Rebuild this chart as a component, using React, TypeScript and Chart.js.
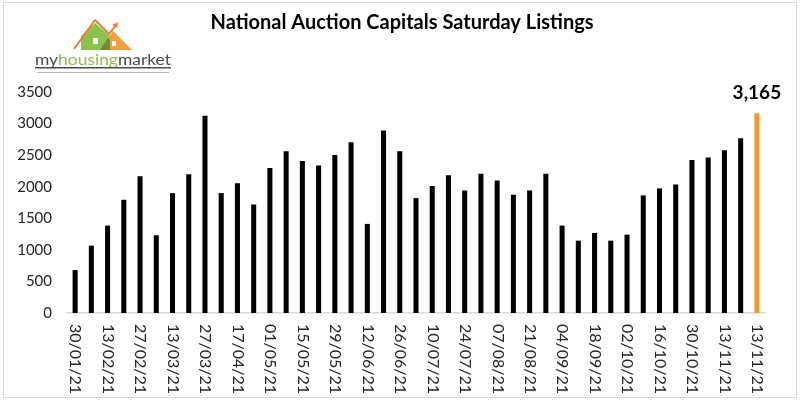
import React, { useEffect, useRef } from "react";
import { Chart, registerables } from "chart.js";

Chart.register(...registerables);

const TITLE = "National Auction Capitals Saturday Listings";

const WEEK_LABELS: string[] = [
  "30/01/21", "06/02/21", "13/02/21", "20/02/21", "27/02/21", "06/03/21",
  "13/03/21", "20/03/21", "27/03/21", "10/04/21", "17/04/21", "24/04/21",
  "01/05/21", "08/05/21", "15/05/21", "22/05/21", "29/05/21", "05/06/21",
  "12/06/21", "19/06/21", "26/06/21", "03/07/21", "10/07/21", "17/07/21",
  "24/07/21", "31/07/21", "07/08/21", "14/08/21", "21/08/21", "28/08/21",
  "04/09/21", "11/09/21", "18/09/21", "25/09/21", "02/10/21", "09/10/21",
  "16/10/21", "23/10/21", "30/10/21", "06/11/21", "13/11/21", "06/11/21",
  "13/11/21",
];

const LISTINGS: number[] = [
  680, 1066, 1384, 1793, 2164, 1231, 1899, 2196, 3125, 1899, 2053, 1718,
  2297, 2562, 2409, 2334, 2504, 2705, 1411, 2891, 2562, 1820, 2011, 2180,
  1941, 2207, 2100, 1873, 1941, 2207, 1384, 1146, 1268, 1146, 1241, 1862,
  1973, 2037, 2425, 2461, 2577, 2768, 3165,
];

const Y_TICKS: number[] = [0, 500, 1000, 1500, 2000, 2500, 3000, 3500];

const BAR_COLOR = "#000000";
const HIGHLIGHT_COLOR = "#EE9B33";
const FONT = "Lato, 'Noto Sans', sans-serif";

const decorPlugin = {
  id: "decor",
  beforeDraw(chart: any) {
    const ctx = chart.ctx;
    ctx.save();
    ctx.fillStyle = "#ffffff";
    ctx.fillRect(0, 0, chart.width, chart.height);
    ctx.strokeStyle = "#d9d9d9";
    ctx.lineWidth = 1;
    ctx.strokeRect(3.5, 2.5, 793, 395);
    ctx.restore();
  },
  afterDraw(chart: any) {
    const ctx = chart.ctx;
    const xs = chart.scales.x;
    const ys = chart.scales.y;
    ctx.save();

    // Title
    ctx.fillStyle = "#000000";
    ctx.font = `bold 20px ${FONT}`;
    ctx.textAlign = "center";
    ctx.textBaseline = "alphabetic";
    ctx.fillText(TITLE, 402, 29);

    // X labels, rotated clockwise
    ctx.font = `16px ${FONT}`;
    ctx.fillStyle = "#262626";
    ctx.textAlign = "left";
    ctx.textBaseline = "middle";
    WEEK_LABELS.forEach((lab, i) => {
      if (i % 2 !== 0) return;
      const x = xs.getPixelForValue(i);
      ctx.save();
      ctx.translate(x + 0.5, 324);
      ctx.rotate(Math.PI / 2);
      ctx.fillText(lab, 0, 0);
      ctx.restore();
    });

    // Data label on last bar
    const last = LISTINGS.length - 1;
    const lx = xs.getPixelForValue(last);
    const ly = ys.getPixelForValue(LISTINGS[last]);
    ctx.font = `bold 19px ${FONT}`;
    ctx.fillStyle = "#000000";
    ctx.textAlign = "center";
    ctx.textBaseline = "alphabetic";
    ctx.fillText(LISTINGS[last].toLocaleString("en-US"), lx, ly - 14);

    // Logo: houses
    ctx.fillStyle = "#8CC152";
    ctx.beginPath();
    ctx.moveTo(81, 50);
    ctx.lineTo(81, 36);
    ctx.lineTo(95, 23);
    ctx.lineTo(110, 36);
    ctx.lineTo(110, 50);
    ctx.closePath();
    ctx.fill();
    ctx.fillStyle = "#F0A040";
    ctx.beginPath();
    ctx.moveTo(100, 50);
    ctx.lineTo(113, 31);
    ctx.lineTo(132, 50);
    ctx.closePath();
    ctx.fill();
    ctx.fillStyle = "#6E8A3A";
    ctx.beginPath();
    ctx.moveTo(100, 50);
    ctx.lineTo(108, 38);
    ctx.lineTo(110, 40);
    ctx.lineTo(110, 50);
    ctx.closePath();
    ctx.fill();
    ctx.strokeStyle = "#E8823A";
    ctx.lineWidth = 2;
    ctx.lineJoin = "round";
    ctx.beginPath();
    ctx.moveTo(74, 49);
    ctx.lineTo(95, 20);
    ctx.lineTo(109, 34);
    ctx.lineTo(116, 25);
    ctx.stroke();
    ctx.fillStyle = "#E8823A";
    ctx.beginPath();
    ctx.moveTo(118, 22);
    ctx.lineTo(112, 25);
    ctx.lineTo(117, 28);
    ctx.closePath();
    ctx.fill();
    ctx.fillStyle = "#ffffff";
    ctx.fillRect(93, 38, 5, 6);
    ctx.fillRect(112, 41, 4, 5);

    // Logo text
    ctx.textAlign = "left";
    ctx.textBaseline = "alphabetic";
    ctx.font = `16px ${FONT}`;
    const parts: [string, string][] = [
      ["my", "#4d4d4d"],
      ["housing", "#8CC152"],
      ["market", "#4d4d4d"],
    ];
    const total = parts.reduce((s, p) => s + ctx.measureText(p[0]).width, 0);
    const sx = 136 / total;
    ctx.save();
    ctx.translate(35, 65);
    ctx.scale(sx, 1);
    let px = 0;
    parts.forEach(([t, c]) => {
      ctx.fillStyle = c;
      ctx.fillText(t, px, 0);
      px += ctx.measureText(t).width;
    });
    ctx.restore();
    ctx.fillStyle = "#4d4d4d";
    ctx.fillRect(35, 67, 136, 1.5);
    ctx.fillStyle = "#b8b8b8";
    ctx.fillRect(37, 72, 132, 1);

    ctx.restore();
  },
};

export default function App() {
  const ref = useRef<HTMLCanvasElement | null>(null);

  useEffect(() => {
    if (!ref.current) return;
    const chart = new Chart(ref.current, {
      type: "bar",
      data: {
        labels: WEEK_LABELS,
        datasets: [
          {
            label: "Listings",
            data: LISTINGS,
            backgroundColor: LISTINGS.map((_, i) =>
              i === LISTINGS.length - 1 ? HIGHLIGHT_COLOR : BAR_COLOR
            ),
            barPercentage: 0.62,
            categoryPercentage: 0.5,
          },
        ],
      },
      options: {
        animation: false,
        responsive: false,
        maintainAspectRatio: false,
        layout: { padding: { top: 92, right: 35, bottom: 88, left: 0 } },
        plugins: {
          legend: { display: false },
          tooltip: { enabled: false },
          title: { display: false },
        },
        scales: {
          x: {
            offset: true,
            grid: { display: false, drawTicks: false },
            border: { display: true, color: "#d9d9d9", width: 1.5 },
            ticks: { display: false },
            afterFit: (s: any) => {
              s.height = 0;
            },
          },
          y: {
            min: 0,
            max: 3500,
            afterBuildTicks: (s: any) => {
              s.ticks = Y_TICKS.map((v) => ({ value: v }));
            },
            grid: { display: false, drawTicks: false },
            border: { display: false },
            ticks: {
              padding: 15,
              color: "#262626",
              font: { family: FONT, size: 15 },
              callback: (v: any) => String(v),
            },
            afterFit: (s: any) => {
              s.width = 67;
            },
          },
        },
      },
      plugins: [decorPlugin],
    });
    return () => chart.destroy();
  }, []);

  return (
    <div style={{ position: "absolute", left: 0, top: 0, width: 800, height: 401 }}>
      <canvas ref={ref} width={800} height={401} style={{ display: "block" }} />
    </div>
  );
}
